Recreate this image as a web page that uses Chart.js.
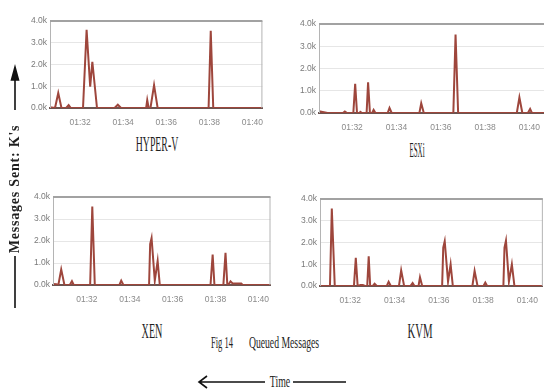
<!DOCTYPE html>
<html>
<head>
<meta charset="utf-8">
<script src="https://cdn.jsdelivr.net/npm/chart.js@4.4.1/dist/chart.umd.min.js"></script>
<style>
  html, body { margin: 0; padding: 0; background: #fff; }
  body { width: 544px; height: 390px; position: relative; overflow: hidden; }
  canvas { position: absolute; }
  .cap { position: absolute; font-family: "Liberation Serif", "Times New Roman", serif; color: #1e1e1e; white-space: nowrap; line-height: 1; }
</style>
</head>
<body>
<canvas id="hyperv" width="253" height="117" style="left:20px;top:13px"></canvas>
<canvas id="esxi" width="261" height="119" style="left:289px;top:16px"></canvas>
<canvas id="xen" width="256" height="118" style="left:23px;top:189px"></canvas>
<canvas id="kvm" width="258" height="117" style="left:290px;top:191px"></canvas>

<div class="cap" style="left:157px;top:134px;font-size:20px;transform:translateX(-50%) scaleX(.49)">HYPER-V</div>
<div class="cap" style="left:417px;top:140px;font-size:20px;transform:translateX(-50%) scaleX(.35)">ESXi</div>
<div class="cap" style="left:152px;top:321px;font-size:20px;transform:translateX(-50%) scaleX(.51)">XEN</div>
<div class="cap" style="left:420px;top:321px;font-size:20px;transform:translateX(-50%) scaleX(.54)">KVM</div>
<div class="cap" style="left:222px;top:334px;font-size:17px;transform:translateX(-50%) scaleX(.5)">Fig 14</div>
<div class="cap" style="left:284px;top:334px;font-size:17px;transform:translateX(-50%) scaleX(.57)">Queued Messages</div>
<div class="cap" style="left:280px;top:373px;font-size:17px;transform:translateX(-50%) scaleX(.58)">Time</div>
<div class="cap" style="left:15px;top:189px;font-size:14px;font-weight:bold;letter-spacing:0.8px;transform:translate(-50%,-50%) rotate(-90deg)">Messages Sent: K's</div>

<svg width="544" height="390" style="position:absolute;left:0;top:0" fill="none" stroke="#111" stroke-width="1.6">
  <path d="M199 382 H265 M293 382 H346 M207 376 L199 382 L207 388"/>
  <path d="M15 110 V70 M15 256 V308"/>
  <path d="M11.5 80 L15 67 L18.5 80 Z" fill="#111"/>
</svg>

<script>
// time in seconds after 01:30:00, queued messages
const tickSeconds = [120, 240, 360, 480, 600];
const tickLabels = ["01:32", "01:34", "01:36", "01:38", "01:40"];
const yTicks = [0, 1000, 2000, 3000, 4000];

const hypervTime = [36, 50, 59, 68, 81, 88, 94, 128, 138, 148, 154, 167, 216, 225, 234, 304, 307, 311, 316, 326, 336, 478, 484, 491, 628];
const hypervQueued = [30, 0, 690, 0, 0, 130, 0, 0, 3600, 980, 2130, 0, 0, 150, 0, 0, 360, 0, 0, 1050, 0, 0, 3550, 0, 0];

const esxiTime = [30, 53, 95, 100, 106, 123, 128, 133, 140, 142, 147, 159, 163, 168, 174, 178, 183, 216, 221, 227, 302, 307, 314, 394, 400, 407, 566, 573, 581, 596, 602, 607, 648];
const esxiQueued = [80, 0, 0, 70, 0, 0, 1310, 0, 0, 50, 0, 0, 1380, 0, 0, 140, 0, 0, 230, 0, 0, 440, 0, 0, 3530, 0, 0, 700, 0, 0, 180, 0, 0];

const xenTime = [25, 34, 40, 48, 57, 72, 78, 83, 129, 135, 142, 211, 216, 222, 294, 297, 301, 310, 318, 324, 466, 472, 477, 502, 508, 513, 518, 522, 528, 552, 556, 634];
const xenQueued = [50, 30, 0, 710, 0, 0, 170, 0, 0, 3570, 0, 0, 200, 0, 0, 1860, 2140, 200, 1100, 0, 0, 1390, 0, 0, 1460, 30, 60, 170, 70, 70, 0, 0];

const kvmTime = [38, 65, 70, 78, 130, 135, 140, 148, 154, 160, 166, 170, 174, 181, 186, 192, 219, 224, 230, 252, 258, 266, 283, 289, 294, 305, 309, 315, 369, 372, 376, 385, 392, 398, 451, 457, 465, 481, 486, 491, 535, 538, 542, 550, 558, 565, 642];
const kvmQueued = [0, 0, 3570, 0, 0, 1300, 0, 50, 50, 0, 0, 1370, 0, 0, 100, 0, 0, 190, 0, 0, 720, 0, 0, 140, 0, 0, 400, 0, 0, 1770, 2060, 200, 1000, 0, 0, 690, 0, 0, 160, 0, 0, 1770, 2090, 200, 1000, 0, 0];

// draws the grey box round the plot, heavier on top
const frame = {
    id: "frame",
    afterDatasetsDraw(chart) {
        const { ctx, chartArea: a } = chart;
        ctx.save();
        ctx.strokeStyle = "#b4b4b4";
        ctx.lineWidth = 1;
        ctx.beginPath();
        ctx.moveTo(a.left + 0.5, a.bottom);
        ctx.lineTo(a.left + 0.5, a.top);
        ctx.moveTo(a.right - 0.5, a.top);
        ctx.lineTo(a.right - 0.5, a.bottom);
        ctx.stroke();
        ctx.strokeStyle = "#a2a2a2";
        ctx.lineWidth = 2;
        ctx.beginPath();
        ctx.moveTo(a.left, a.top);
        ctx.lineTo(a.right, a.top);
        ctx.stroke();
        ctx.restore();
    }
};

function makeChart(id, times, values, minT, maxT) {
    const ctx = document.getElementById(id).getContext("2d");
    return new Chart(ctx, {
        type: "line",
        data: {
            datasets: [{
                data: times.map((t, i) => ({ x: t, y: values[i] })),
                borderColor: "#9e463c",
                borderWidth: 2,
                pointRadius: 0,
                tension: 0
            }]
        },
        options: {
            responsive: false,
            animation: false,
            layout: { padding: { top: 2, right: 0, left: 0, bottom: 0 } },
            plugins: { legend: { display: false }, tooltip: { enabled: false } },
            scales: {
                x: {
                    type: "linear",
                    min: minT,
                    max: maxT,
                    afterBuildTicks: s => { s.ticks = tickSeconds.map(v => ({ value: v })); },
                    afterFit: s => { s.height = 22; },
                    grid: { display: false, drawTicks: false },
                    border: { display: true, color: "#6b5450", width: 2 },
                    ticks: {
                        padding: 10,
                        maxRotation: 0,
                        autoSkip: false,
                        color: "#8a8a8a",
                        font: { family: "Liberation Sans", size: 8.5 },
                        callback: (v, i) => tickLabels[i]
                    }
                },
                y: {
                    min: 0,
                    max: 4000,
                    afterBuildTicks: s => { s.ticks = yTicks.map(v => ({ value: v })); },
                    afterFit: s => { s.width = 30; },
                    grid: { color: "#e6e6e6", drawTicks: false },
                    border: { display: false },
                    ticks: {
                        padding: 3,
                        color: "#7a7a7a",
                        font: { family: "Liberation Sans", size: 8.5 },
                        callback: v => (v / 1000).toFixed(1) + "k"
                    }
                }
            }
        },
        plugins: [frame]
    });
}

makeChart("hyperv", hypervTime, hypervQueued, 36, 628);
makeChart("esxi", esxiTime, esxiQueued, 30, 648);
makeChart("xen", xenTime, xenQueued, 25, 634);
makeChart("kvm", kvmTime, kvmQueued, 38, 642);
</script>
</body>
</html>
